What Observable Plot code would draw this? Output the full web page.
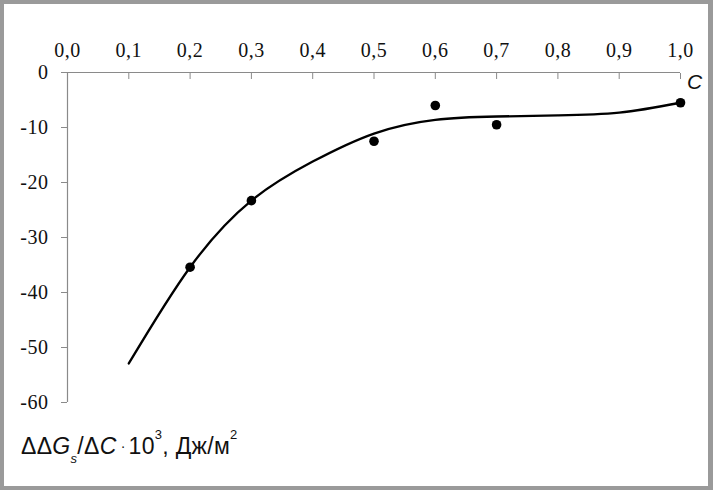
<!DOCTYPE html>
<html>
<head>
<meta charset="utf-8">
<script src="https://cdn.jsdelivr.net/npm/d3@7"></script>
<script src="https://cdn.jsdelivr.net/npm/@observablehq/plot@0.6"></script>
<style>
  html, body { margin: 0; padding: 0; background: #fff; }
  #wrap { position: relative; width: 713px; height: 490px; overflow: hidden; background: #fff; }
  #wrap svg { position: absolute; left: 0; top: 0; }
  #frame { position: absolute; left: 0; top: 0; width: 713px; height: 490px; box-sizing: border-box; border: 4px solid #9a9a9a; border-right-width: 5px; pointer-events: none; }
  #ylabel { position: absolute; left: 21px; top: 435px; font-family: "Liberation Sans", Arial, sans-serif; font-size: 23px; color: #111; white-space: nowrap; line-height: 1; letter-spacing: 0.3px; }
  #ylabel i { font-style: italic; }
  #ylabel sub { font-size: 13px; vertical-align: -9px; line-height: 0; }
  #ylabel sup { font-size: 13px; vertical-align: 15px; line-height: 0; }
  #ylabel .dot { font-size: 14px; vertical-align: 3px; padding: 0 3px 0 4px; }
  svg text.serif-tick { letter-spacing: 0.5px; }
</style>
</head>
<body>
<div id="wrap"><div id="frame"></div></div>
<script>
// Measured points (C, ΔΔGs/ΔC·10^3)
const pointC = [0.2, 0.3, 0.5, 0.6, 0.7, 1.0];
const pointG = [-35.4, -23.3, -12.5, -6.0, -9.5, -5.5];

// Fitted curve
const curveC = [0.10, 0.20, 0.30, 0.40, 0.50, 0.60, 0.70, 0.80, 0.90, 1.00];
const curveG = [-52.9, -35.4, -23.3, -16.2, -11.1, -8.6, -8.0, -7.8, -7.3, -5.5];

// Tick values
const xTicks = [0.0, 0.1, 0.2, 0.3, 0.4, 0.5, 0.6, 0.7, 0.8, 0.9, 1.0];
const yTicks = [0, -10, -20, -30, -40, -50, -60];

const points = pointC.map((c, i) => ({c, g: pointG[i]}));
const curve = curveC.map((c, i) => ({c, g: curveG[i]}));

const axisGray = "#8a8a8a";
const serif = "Liberation Serif";

const chart = Plot.plot({
  width: 713,
  height: 490,
  marginLeft: 67,
  marginRight: 33,
  marginTop: 72,
  marginBottom: 88,
  style: {background: "transparent", color: "#111"},
  x: {domain: [0, 1], label: null},
  y: {domain: [-60, 0], label: null},
  marks: [
    Plot.ruleY([0], {stroke: axisGray, strokeWidth: 1.2}),
    Plot.ruleX([0], {stroke: axisGray, strokeWidth: 1.2}),
    Plot.axisX({anchor: "top", ticks: xTicks, tickSize: -6, stroke: axisGray, fill: "none", label: null}),
    Plot.text(xTicks, {
      x: d => d,
      frameAnchor: "top",
      dy: -30,
      text: d => d.toFixed(1).replace(".", ","),
      fontSize: 20,
      fontFamily: serif,
      fill: "#111"
    }),
    Plot.axisY({
      anchor: "left",
      ticks: yTicks,
      tickSize: 6,
      tickPadding: 13,
      tickFormat: d => String(d),
      stroke: axisGray,
      fill: "#111",
      fontSize: 20,
      fontFamily: serif,
      label: null
    }),
    Plot.text(["C"], {
      frameAnchor: "top-right",
      dx: 14,
      dy: 2,
      textAnchor: "middle",
      text: d => d,
      fontSize: 21,
      fontStyle: "italic",
      fontFamily: "Liberation Sans",
      fill: "#111"
    }),
    Plot.line(curve, {x: "c", y: "g", curve: "natural", stroke: "#000", strokeWidth: 2.3}),
    Plot.dot(points, {x: "c", y: "g", r: 4.8, fill: "#000", stroke: "none"})
  ]
});

chart.querySelectorAll("text").forEach(t => {
  if (t.textContent.trim() !== "C") t.classList.add("serif-tick");
});

const wrap = document.getElementById("wrap");
wrap.insertBefore(chart, wrap.firstChild);

const lab = document.createElement("div");
lab.id = "ylabel";
lab.innerHTML = "ΔΔ<i>G</i><sub><i>s</i></sub>/Δ<i>C</i><span class='dot'>·</span>10<sup>3</sup>, Дж/м<sup>2</sup>";
wrap.appendChild(lab);
</script>
</body>
</html>
